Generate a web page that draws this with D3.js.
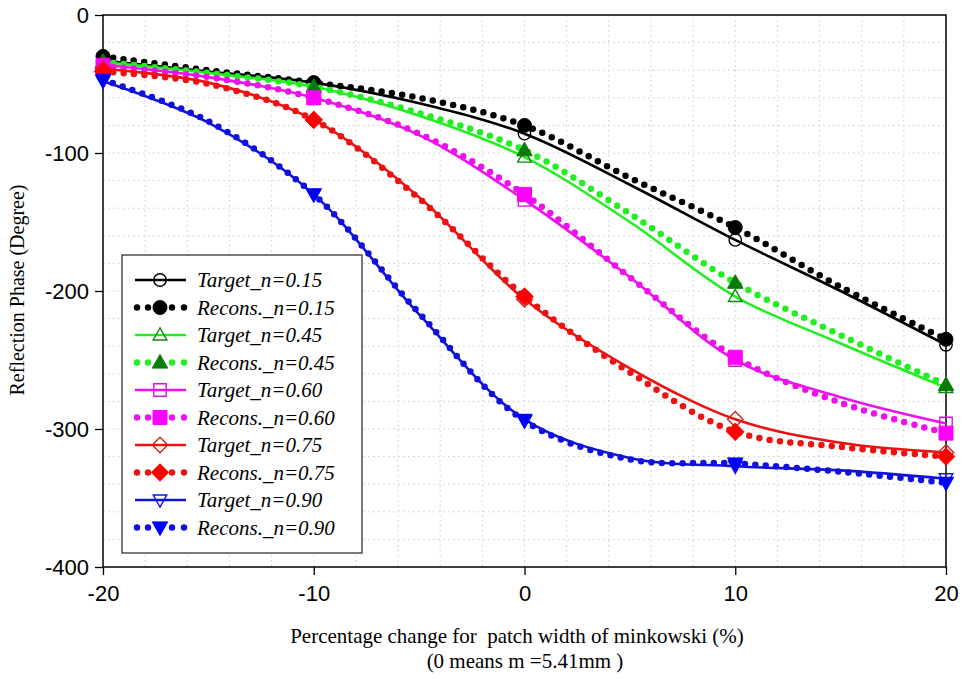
<!DOCTYPE html>
<html>
<head>
<meta charset="utf-8">
<script src="https://cdn.jsdelivr.net/npm/d3@7"></script>
<style>
  html, body { margin: 0; padding: 0; background: #fff; }
  svg { display: block; }
</style>
</head>
<body>
<svg id="chart" width="962" height="679"></svg>
<script>
// Sampled x positions (percentage change); markers sit on the multiples of 10
const xSamples = [-20, -15, -10, -5, 0, 5, 10, 15, 20];
const markerX = [-20, -10, 0, 10, 20];

// Reflection phase (degrees) for each n
const target015 = [-33, -41, -49, -64, -86, -123, -163, -200, -239];
const recons015 = [-30, -40, -49, -60, -80, -118, -154, -197, -235];
const target045 = [-34, -42, -52, -73, -103, -150, -204, -238, -270];
const recons045 = [-34, -42, -52, -71, -98, -144, -194, -232, -268];
const target060 = [-36, -45, -60, -87, -134, -190, -250, -277, -296];
const recons060 = [-37, -45, -60, -86, -130, -190, -248, -281, -303];
const target075 = [-39, -49, -76, -132, -206, -256, -293, -310, -317];
const recons075 = [-41, -50, -76, -133, -204, -259, -302, -313, -320];
const target090 = [-48, -78, -130, -217, -293, -321, -327, -330, -336];
const recons090 = [-47, -77, -130, -216, -294, -322, -325, -331, -339];

const xTicks = [-20, -10, 0, 10, 20];
const yTicks = [0, -100, -200, -300, -400];

const series = [
  { name: "Target_n=0.15", values: target015, kind: "target", color: "#000000", mcolor: "#000000", shape: "circle" },
  { name: "Recons._n=0.15", values: recons015, kind: "recons", color: "#000000", mcolor: "#000000", shape: "circle" },
  { name: "Target_n=0.45", values: target045, kind: "target", color: "#22ee22", mcolor: "#118811", shape: "triangle" },
  { name: "Recons._n=0.45", values: recons045, kind: "recons", color: "#22ee22", mcolor: "#0a7a0a", shape: "triangle" },
  { name: "Target_n=0.60", values: target060, kind: "target", color: "#ee11ee", mcolor: "#dd11dd", shape: "square" },
  { name: "Recons._n=0.60", values: recons060, kind: "recons", color: "#ee11ee", mcolor: "#ff00ff", shape: "square" },
  { name: "Target_n=0.75", values: target075, kind: "target", color: "#ee1111", mcolor: "#cc2222", shape: "diamond" },
  { name: "Recons._n=0.75", values: recons075, kind: "recons", color: "#ee1111", mcolor: "#ff0000", shape: "diamond" },
  { name: "Target_n=0.90", values: target090, kind: "target", color: "#1111dd", mcolor: "#1111dd", shape: "tridown" },
  { name: "Recons._n=0.90", values: recons090, kind: "recons", color: "#1111dd", mcolor: "#0000ff", shape: "tridown" }
];

const svg = d3.select("#chart");
const margin = { left: 103, right: 16, top: 15, bottom: 112 };
const W = 962, H = 679;

const x = d3.scaleLinear().domain([-20, 20]).range([margin.left, W - margin.right]);
const y = d3.scaleLinear().domain([-400, 0]).range([H - margin.bottom, margin.top]);

// Dotted grid
const grid = svg.append("g");
grid.selectAll("line.gx").data(d3.range(-18, 20, 2)).join("line")
  .attr("x1", d => x(d)).attr("x2", d => x(d))
  .attr("y1", y(0)).attr("y2", y(-400))
  .attr("stroke", "#cccccc").attr("stroke-width", 1).attr("stroke-dasharray", "1.5 3.5");
grid.selectAll("line.gy").data(d3.range(-380, 0, 20)).join("line")
  .attr("x1", x(-20)).attr("x2", x(20))
  .attr("y1", d => y(d)).attr("y2", d => y(d))
  .attr("stroke", "#cccccc").attr("stroke-width", 1).attr("stroke-dasharray", "1.5 3.5");

// Axes (plain hyphen-minus in the tick labels)
const axisFont = "'Liberation Sans', Arial, sans-serif";
const fmt = d => String(d);
const xAxis = svg.append("g").attr("transform", `translate(0,${y(-400)})`)
  .call(d3.axisBottom(x).tickValues(xTicks).tickSize(8).tickPadding(10).tickFormat(fmt));
const yAxis = svg.append("g").attr("transform", `translate(${x(-20)},0)`)
  .call(d3.axisLeft(y).tickValues(yTicks).tickSize(8).tickPadding(6).tickFormat(fmt));
[xAxis, yAxis].forEach(a => {
  a.select(".domain").remove();
  a.selectAll(".tick line").attr("stroke", "#000").attr("stroke-width", 1.3);
  a.selectAll("text").attr("font-family", axisFont).attr("font-size", 22).attr("fill", "#000");
});
yAxis.selectAll("text").attr("dy", "0.36em");

// Frame
svg.append("rect")
  .attr("x", x(-20)).attr("y", y(0))
  .attr("width", x(20) - x(-20)).attr("height", y(-400) - y(0))
  .attr("fill", "none").attr("stroke", "#000").attr("stroke-width", 1.5);

// Marker shapes
function markerPath(shape, r) {
  switch (shape) {
    case "circle": return d3.symbol(d3.symbolCircle, Math.PI * r * r)();
    case "square": return `M${-r},${-r}H${r}V${r}H${-r}Z`;
    case "diamond": return `M0,${-r * 1.25}L${r * 1.25},0L0,${r * 1.25}L${-r * 1.25},0Z`;
    case "triangle": return `M0,${-r * 1.15}L${r * 1.1},${r * 0.8}L${-r * 1.1},${r * 0.8}Z`;
    case "tridown": return `M0,${r * 1.15}L${r * 1.1},${-r * 0.8}L${-r * 1.1},${-r * 0.8}Z`;
  }
}

function drawMarker(g, s, cx, cy) {
  const filled = s.kind === "recons";
  g.append("path")
    .attr("d", markerPath(s.shape, filled ? 7 : 6.2))
    .attr("transform", `translate(${cx},${cy})`)
    .attr("fill", filled ? s.mcolor : "#fff")
    .attr("fill-opacity", filled ? 1 : 0)
    .attr("stroke", s.mcolor)
    .attr("stroke-width", filled ? 1 : 1.4);
}

const line = d3.line().x(d => x(d[0])).y(d => y(d[1])).curve(d3.curveCatmullRom.alpha(0.5));

const plot = svg.append("g");
series.forEach(s => {
  const pts = xSamples.map((xv, i) => [xv, s.values[i]]);
  const path = plot.append("path").datum(pts)
    .attr("d", line)
    .attr("fill", "none")
    .attr("stroke", s.color);
  if (s.kind === "target") {
    path.attr("stroke-width", 2.6);
  } else {
    path.attr("stroke-width", 6.5).attr("stroke-linecap", "round").attr("stroke-dasharray", "0 10.4");
  }
  pts.filter(p => markerX.includes(p[0])).forEach(p => drawMarker(plot, s, x(p[0]), y(p[1])));
});

// Legend
const legend = svg.append("g");
legend.append("rect")
  .attr("x", 122).attr("y", 255).attr("width", 240).attr("height", 298)
  .attr("fill", "#fff").attr("stroke", "#333").attr("stroke-width", 1.3);
series.forEach((s, i) => {
  const ly = 280 + i * 27.5;
  if (s.kind === "target") {
    legend.append("line").attr("x1", 135).attr("x2", 186).attr("y1", ly).attr("y2", ly)
      .attr("stroke", s.color).attr("stroke-width", 2.6);
  } else {
    [137, 148, 172, 184].forEach(cx => legend.append("circle")
      .attr("cx", cx).attr("cy", ly).attr("r", 3.2).attr("fill", s.color));
  }
  drawMarker(legend, s, 160, ly);
  legend.append("text")
    .attr("x", 197).attr("y", ly).attr("dy", "0.35em")
    .attr("font-family", "'Liberation Serif', 'Times New Roman', serif")
    .attr("font-style", "italic").attr("font-size", 21).attr("fill", "#000")
    .text(s.name);
});

// Axis titles
const serif = "'Liberation Serif', 'Times New Roman', serif";
svg.append("text")
  .attr("x", 517).attr("y", 643).attr("text-anchor", "middle")
  .attr("font-family", serif).attr("font-size", 21).attr("fill", "#000")
  .attr("xml:space", "preserve")
  .text("Percentage change for  patch width of minkowski (%)");
svg.append("text")
  .attr("x", 525).attr("y", 668).attr("text-anchor", "middle")
  .attr("font-family", serif).attr("font-size", 21).attr("fill", "#000")
  .attr("xml:space", "preserve")
  .text("(0 means m =5.41mm )");
svg.append("text")
  .attr("transform", "translate(24,290) rotate(-90)")
  .attr("text-anchor", "middle")
  .attr("font-family", serif).attr("font-size", 20).attr("fill", "#000")
  .text("Reflection Phase (Degree)");
</script>
</body>
</html>
